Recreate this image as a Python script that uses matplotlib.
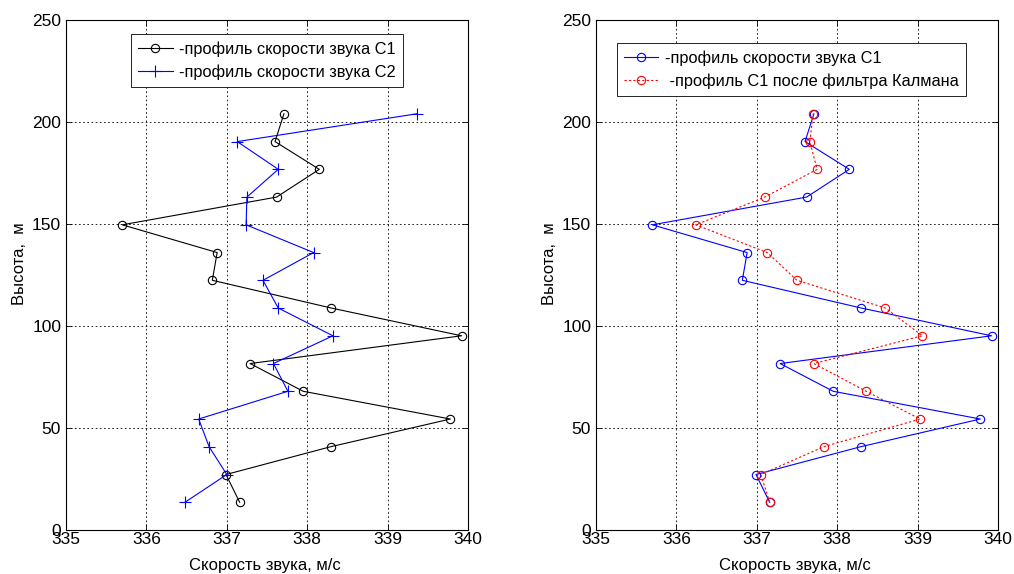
import matplotlib
matplotlib.use("Agg")
import matplotlib.pyplot as plt

plt.rcParams['font.family'] = ['Liberation Sans', 'DejaVu Sans']

# heights, m
height = [13.6, 27.2, 40.8, 54.4, 68.0, 81.6, 95.2, 108.8,
          122.4, 136.0, 149.6, 163.2, 176.8, 190.4, 204.0]

# sound speed profiles, m/s
c1 = [337.16, 336.99, 338.29, 339.78, 337.95, 337.29, 339.92, 338.30,
      336.82, 336.88, 335.70, 337.62, 338.15, 337.60, 337.71]
c2 = [336.48, 337.00, 336.78, 336.65, 337.76, 337.58, 338.32, 337.64,
      337.45, 338.08, 337.24, 337.25, 337.64, 337.13, 339.36]
c1_kalman = [337.16, 337.05, 337.83, 339.03, 338.36, 337.71, 339.06, 338.60,
             337.50, 337.13, 336.24, 337.10, 337.75, 337.66, 337.70]

x_ticks = [335, 336, 337, 338, 339, 340]
y_ticks = [0, 50, 100, 150, 200, 250]

fig = plt.figure(figsize=(10.14, 5.74), dpi=100)
ax1 = fig.add_axes([66 / 1014, 44 / 574, 402 / 1014, 510 / 574])
ax2 = fig.add_axes([596 / 1014, 44 / 574, 402 / 1014, 510 / 574])

ax1.plot(c1, height, color='black', lw=0.8, marker='o', ms=6,
         mfc='none', mew=0.8, label='-профиль скорости звука С1')
ax1.plot(c2, height, color='blue', lw=0.8, marker='+', ms=8,
         mew=0.8, label='-профиль скорости звука С2')

ax2.plot(c1, height, color='blue', lw=0.8, marker='o', ms=6,
         mfc='none', mew=0.8, label='-профиль скорости звука С1')
ax2.plot(c1_kalman, height, color='red', lw=0.8, ls=(0, (2, 2)), marker='o',
         ms=6, mfc='none', mew=0.8, label=' -профиль С1 после фильтра Калмана')

for ax in (ax1, ax2):
    ax.set_xlim(335, 340)
    ax.set_ylim(0, 250)
    ax.set_xticks(x_ticks)
    ax.set_yticks(y_ticks)
    ax.tick_params(direction='in', labelsize=12.5, length=4, width=0.6,
                   top=True, right=True)
    ax.tick_params(axis='x', pad=1.5)
    ax.tick_params(axis='y', pad=3.5)
    ax.grid(True, color='black', ls=(0, (2, 3)), lw=0.6)
    for s in ax.spines.values():
        s.set_linewidth(0.8)
    ax.set_xlabel('Скорость звука, м/с', fontsize=12)
    ax.set_ylabel('Высота,  м', fontsize=12)
    ax.xaxis.set_label_coords(0.494, -0.054)
    ax.yaxis.set_label_coords(-0.097, 0.5225)

leg1 = ax1.legend(loc='upper center', bbox_to_anchor=(0.5, 1 - 14 / 510),
                  fontsize=11.8, fancybox=False, edgecolor='black',
                  framealpha=1, handlelength=2.1, borderpad=0.45,
                  labelspacing=0.45, handletextpad=0.4, borderaxespad=0)
leg1.get_frame().set_linewidth(0.6)
leg2 = ax2.legend(loc='upper center', bbox_to_anchor=(0.486, 1 - 23 / 510),
                  fontsize=11.8, fancybox=False, edgecolor='black',
                  framealpha=1, handlelength=2.1, borderpad=0.45,
                  labelspacing=0.45, handletextpad=0.4, borderaxespad=0)
leg2.get_frame().set_linewidth(0.6)

fig.savefig('out.png', dpi=100)
